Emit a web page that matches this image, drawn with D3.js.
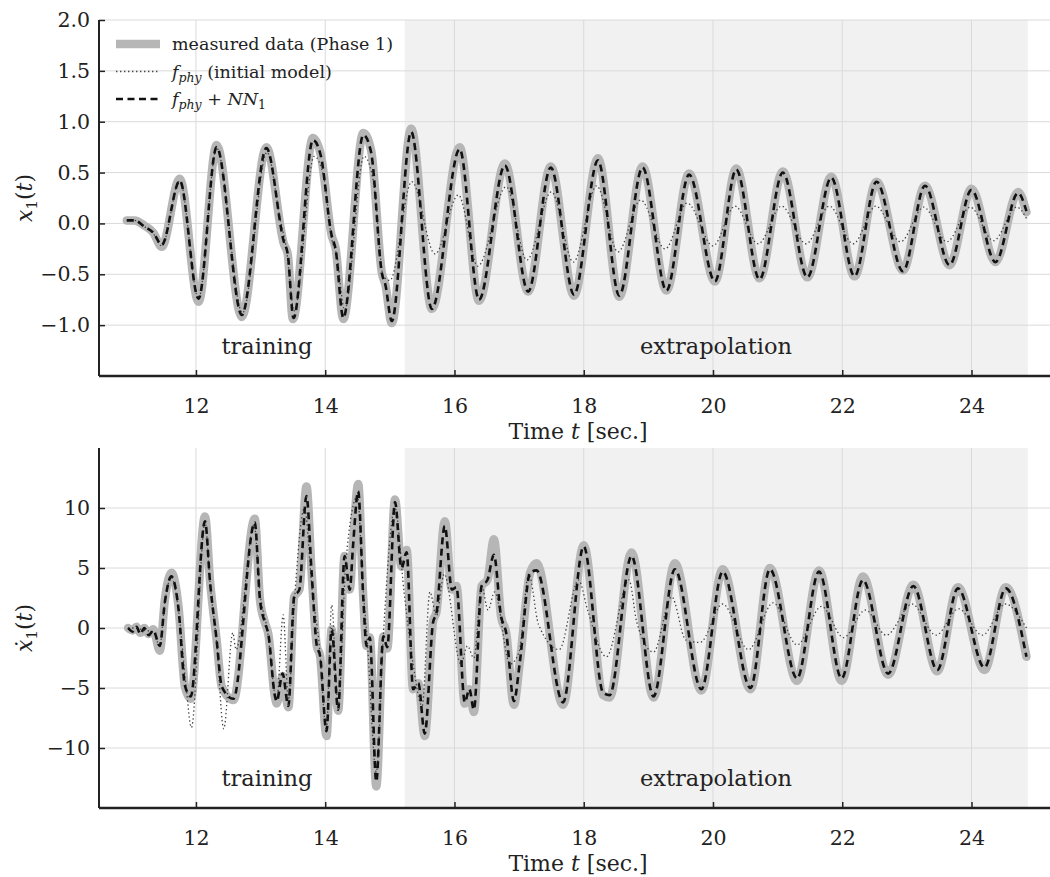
<!DOCTYPE html>
<html>
<head>
<meta charset="utf-8">
<script src="https://cdn.jsdelivr.net/npm/d3@7"></script>
<style>
  body { margin: 0; background: #fff; }
  svg { display: block; font-family: "DejaVu Serif", serif; }
  .grid line { stroke: #dadada; stroke-width: 1; }
  .axis path, .axis line { stroke: #222; }
  .axis text { fill: #222; }
</style>
</head>
<body>
<svg id="chart" width="1050" height="877"></svg>
<script>
// time ranges (sec.)
const extrapStart = 15.23
const extrapEnd = 24.87
const xTicks = [12, 14, 16, 18, 20, 22, 24]
const yTicksTop = [-1.0, -0.5, 0.0, 0.5, 1.0, 1.5, 2.0]
const yTicksBottom = [-10, -5, 0, 5, 10]

// x1(t) — measured, f_phy, f_phy + NN1   [t, value]
const x1Measured = [
  [10.93, 0.03], [11.05, 0.03], [11.20, -0.02], [11.34, -0.09], [11.47, -0.23],
  [11.75, 0.44], [12.04, -0.77], [12.32, 0.77], [12.71, -0.92], [13.09, 0.75],
  [13.36, -0.20], [13.42, -0.30], [13.50, -0.94], [13.81, 0.84], [13.93, 0.68],
  [14.10, -0.12], [14.16, -0.24], [14.28, -0.94], [14.59, 0.89], [14.71, 0.72],
  [14.88, -0.50], [14.93, -0.60], [15.03, -0.98], [15.33, 0.93], [15.65, -0.84],
  [16.08, 0.75], [16.38, -0.76], [16.78, 0.59], [17.14, -0.67], [17.49, 0.56],
  [17.85, -0.71], [18.22, 0.64], [18.55, -0.72], [18.91, 0.56], [19.28, -0.66],
  [19.63, 0.49], [20.03, -0.57], [20.36, 0.54], [20.72, -0.54], [21.08, 0.51],
  [21.46, -0.53], [21.83, 0.46], [22.19, -0.52], [22.53, 0.41], [22.94, -0.46],
  [23.28, 0.37], [23.66, -0.41], [24.00, 0.34], [24.37, -0.38], [24.72, 0.31],
  [24.85, 0.11]
]
const x1Phy = [
  [10.93, 0.03], [11.05, 0.03], [11.20, -0.03], [11.34, -0.10], [11.47, -0.22],
  [11.75, 0.42], [12.04, -0.74], [12.32, 0.74], [12.72, -0.88], [13.10, 0.70],
  [13.30, 0.05], [13.40, -0.25], [13.52, -0.86], [13.83, 0.66], [13.98, 0.45],
  [14.10, -0.15], [14.18, -0.32], [14.30, -0.85], [14.60, 0.66], [14.75, 0.40],
  [14.90, -0.52], [15.00, -0.56], [15.34, 0.41], [15.70, -0.30], [16.06, 0.28],
  [16.36, -0.42], [16.80, 0.36], [17.12, -0.36], [17.50, 0.31], [17.84, -0.38],
  [18.20, 0.37], [18.53, -0.28], [18.88, 0.23], [19.26, -0.25], [19.60, 0.20],
  [20.00, -0.22], [20.34, 0.17], [20.70, -0.20], [21.06, 0.17], [21.44, -0.20],
  [21.80, 0.17], [22.17, -0.20], [22.52, 0.17], [22.90, -0.18], [23.26, 0.16],
  [23.62, -0.18], [23.98, 0.16], [24.34, -0.17], [24.70, 0.16], [24.85, 0.05]
]
const x1PhyNN = [
  [10.93, 0.03], [11.05, 0.03], [11.20, -0.03], [11.34, -0.09], [11.47, -0.21],
  [11.75, 0.42], [12.04, -0.74], [12.32, 0.75], [12.71, -0.90], [13.09, 0.74],
  [13.36, -0.18], [13.42, -0.30], [13.51, -0.93], [13.81, 0.82], [13.93, 0.67],
  [14.10, -0.12], [14.16, -0.25], [14.28, -0.93], [14.59, 0.87], [14.71, 0.70],
  [14.88, -0.50], [14.93, -0.60], [15.03, -0.96], [15.33, 0.90], [15.65, -0.84],
  [16.08, 0.73], [16.38, -0.75], [16.78, 0.57], [17.14, -0.67], [17.49, 0.55],
  [17.85, -0.70], [18.22, 0.62], [18.55, -0.71], [18.91, 0.55], [19.28, -0.66],
  [19.63, 0.48], [20.03, -0.57], [20.36, 0.53], [20.72, -0.55], [21.08, 0.50],
  [21.46, -0.53], [21.83, 0.45], [22.19, -0.52], [22.53, 0.41], [22.94, -0.47],
  [23.28, 0.37], [23.66, -0.41], [24.00, 0.33], [24.37, -0.38], [24.72, 0.30],
  [24.85, 0.12]
]

// x1 dot (t)
const dx1Measured = [
  [10.95, 0.0], [11.02, -0.2], [11.08, 0.1], [11.14, -0.4], [11.20, 0.0],
  [11.27, -0.5], [11.34, -0.1], [11.44, -1.9], [11.52, 2.4], [11.62, 4.6],
  [11.73, 1.8], [11.83, -4.9], [11.92, -5.9], [12.14, 9.3], [12.22, 3.8],
  [12.32, -1.0], [12.40, -4.9], [12.58, -6.0], [12.91, 9.1], [12.99, 2.4],
  [13.07, 0.4], [13.12, -0.5], [13.22, -5.7], [13.25, -6.3], [13.34, -4.0],
  [13.43, -6.6], [13.52, 2.6], [13.60, 3.2], [13.71, 11.8], [13.79, 4.6],
  [13.87, -1.5], [13.92, -2.3], [14.02, -9.0], [14.10, -0.1], [14.20, -6.9],
  [14.30, 6.0], [14.38, 3.2], [14.43, 7.0], [14.51, 12.0], [14.59, 2.4],
  [14.64, -1.5], [14.69, -0.8], [14.79, -13.2], [14.90, -0.7], [14.96, -1.7],
  [15.08, 10.7], [15.18, 5.1], [15.26, 6.5], [15.36, -5.1], [15.44, -4.6],
  [15.54, -9.0], [15.67, 0.6], [15.72, 1.3], [15.85, 8.9], [15.96, 3.2],
  [16.03, 3.5], [16.16, -6.3], [16.23, -5.1], [16.30, -7.0], [16.42, 3.5],
  [16.51, 4.0], [16.61, 7.4], [16.72, 1.0], [16.80, -0.4], [16.92, -6.4],
  [17.01, -2.9], [17.17, 4.6], [17.27, 5.4], [17.68, -6.4], [18.00, 6.9],
  [18.30, -5.6], [18.40, -5.8], [18.74, 6.3], [19.08, -5.8], [19.41, 5.4],
  [19.82, -5.2], [20.15, 4.9], [20.58, -5.1], [20.88, 5.0], [21.30, -4.4],
  [21.64, 4.8], [21.99, -4.4], [22.32, 4.3], [22.71, -3.9], [23.10, 3.6],
  [23.47, -3.6], [23.79, 3.4], [24.20, -3.5], [24.53, 3.4], [24.85, -2.4]
]
const dx1Phy = [
  [10.95, 0.0], [11.08, 0.0], [11.20, -0.2], [11.34, -0.3], [11.44, -1.5],
  [11.52, 2.2], [11.62, 4.2], [11.73, 1.5], [11.85, -5.0], [11.93, -8.3],
  [12.14, 8.8], [12.22, 3.6], [12.32, -1.2], [12.43, -8.4], [12.57, -0.4],
  [12.62, -1.8], [12.90, 8.6], [12.99, 3.0], [13.10, 0.0], [13.25, -6.0],
  [13.35, 1.1], [13.43, -6.0], [13.52, 2.0], [13.68, 10.0], [13.80, 3.0],
  [13.90, -1.0], [14.02, -8.5], [14.10, 1.9], [14.20, -6.5], [14.32, 5.5],
  [14.50, 11.0], [14.58, 3.8], [14.65, -1.0], [14.79, -12.0], [14.90, -0.5],
  [15.08, 10.0], [15.22, 3.0], [15.36, -3.0], [15.50, -6.5], [15.62, 3.0],
  [15.72, 1.0], [15.84, 4.5], [16.10, -3.0], [16.20, -1.5], [16.30, -2.5],
  [16.42, 3.5], [16.52, 1.5], [16.62, 3.0], [16.86, -3.0], [17.00, -2.0],
  [17.15, 4.5], [17.30, 0.3], [17.62, -1.8], [17.92, 4.0], [18.06, 1.5],
  [18.35, -2.4], [18.70, 4.0], [18.82, 0.5], [19.08, -2.0], [19.36, 2.6],
  [19.58, -1.0], [19.80, -1.2], [20.15, 2.0], [20.55, -1.8], [20.93, 2.1],
  [21.30, -1.4], [21.68, 1.8], [22.02, -0.8], [22.36, 1.5], [22.68, -0.6],
  [23.08, 2.0], [23.45, -0.6], [23.80, 1.6], [24.17, -0.6], [24.52, 2.0],
  [24.85, 0.0]
]
const dx1PhyNN = [
  [10.95, 0.0], [11.02, -0.3], [11.08, 0.1], [11.14, -0.5], [11.20, 0.0],
  [11.27, -0.6], [11.34, -0.2], [11.44, -1.5], [11.52, 2.2], [11.62, 4.3],
  [11.73, 1.6], [11.83, -4.8], [11.92, -5.7], [12.14, 8.9], [12.22, 3.7],
  [12.32, -1.0], [12.40, -4.9], [12.58, -5.9], [12.91, 8.8], [12.99, 2.4],
  [13.07, 0.4], [13.12, -0.5], [13.22, -5.6], [13.25, -6.1], [13.34, -3.8],
  [13.43, -6.5], [13.52, 2.6], [13.60, 3.2], [13.71, 11.0], [13.79, 4.6],
  [13.87, -1.5], [13.92, -2.3], [14.02, -8.6], [14.10, -0.1], [14.20, -6.8],
  [14.30, 6.0], [14.38, 3.2], [14.43, 6.8], [14.51, 11.4], [14.59, 2.4],
  [14.64, -1.5], [14.69, -0.8], [14.79, -12.8], [14.90, -0.7], [14.96, -1.6],
  [15.08, 10.5], [15.18, 5.0], [15.26, 6.3], [15.36, -5.1], [15.44, -4.6],
  [15.54, -8.8], [15.67, 0.5], [15.72, 1.2], [15.85, 8.5], [15.96, 3.2],
  [16.03, 3.4], [16.16, -6.2], [16.23, -5.1], [16.30, -6.8], [16.42, 3.5],
  [16.51, 4.0], [16.61, 6.1], [16.72, 1.0], [16.80, -0.4], [16.92, -6.1],
  [17.01, -2.9], [17.17, 4.6], [17.27, 4.8], [17.68, -6.2], [18.00, 6.8],
  [18.30, -5.4], [18.40, -5.6], [18.74, 6.0], [19.08, -5.7], [19.41, 4.9],
  [19.82, -5.1], [20.15, 4.7], [20.58, -5.0], [20.88, 4.9], [21.30, -4.2],
  [21.64, 4.7], [21.99, -4.2], [22.32, 4.0], [22.71, -3.8], [23.10, 3.5],
  [23.47, -3.5], [23.79, 3.3], [24.20, -3.3], [24.53, 3.3], [24.85, -2.4]
]

const svg = d3.select("#chart")

const xScale = d3.scaleLinear().domain([10.5, 25.4]).range([99, 1062])

const panels = [
  {
    top: 20, bottom: 376, domain: [-1.5, 2.0], ticks: yTicksTop,
    fmt: d3.format(".1f"),
    series: [x1Measured, x1Phy, x1PhyNN],
    dot: false, legend: true
  },
  {
    top: 448, bottom: 808, domain: [-15, 15], ticks: yTicksBottom,
    fmt: d3.format("d"),
    series: [dx1Measured, dx1Phy, dx1PhyNN],
    dot: true, legend: false
  }
]

const left = 99, right = 1050
const measuredStyle = { stroke: "#b6b6b6", width: 8.5, dash: null }
const phyStyle = { stroke: "#444", width: 1.3, dash: "1.4,2.6" }
const nnStyle = { stroke: "#111", width: 2.6, dash: "7,4.5" }

panels.forEach(p => {
  const yScale = d3.scaleLinear().domain(p.domain).range([p.bottom, p.top])
  const g = svg.append("g")

  // shaded extrapolation band
  g.append("rect")
    .attr("x", xScale(extrapStart))
    .attr("y", p.top)
    .attr("width", xScale(extrapEnd) - xScale(extrapStart))
    .attr("height", p.bottom - p.top)
    .attr("fill", "#f1f1f1")

  // grid
  const grid = g.append("g").attr("class", "grid")
  grid.selectAll(".gx").data(xTicks).join("line")
    .attr("x1", d => xScale(d)).attr("x2", d => xScale(d))
    .attr("y1", p.top).attr("y2", p.bottom)
  grid.selectAll(".gy").data(p.ticks).join("line")
    .attr("x1", left).attr("x2", right)
    .attr("y1", d => yScale(d)).attr("y2", d => yScale(d))

  // region labels
  const ly = yScale(p.domain[0]) - 22
  g.append("text").attr("x", 267).attr("y", ly).attr("text-anchor", "middle")
    .attr("font-size", 22.5).attr("fill", "#222").text("training")
  g.append("text").attr("x", 716).attr("y", ly).attr("text-anchor", "middle")
    .attr("font-size", 22.5).attr("fill", "#222").text("extrapolation")

  const line = d3.line()
    .x(d => xScale(d[0]))
    .y(d => yScale(d[1]))
    .curve(d3.curveMonotoneX)

  const draw = (data, s, extra) => g.append("path").datum(data)
    .attr("d", line).attr("fill", "none")
    .attr("stroke", s.stroke).attr("stroke-width", s.width)
    .attr("stroke-dasharray", s.dash)
    .attr("stroke-linejoin", "round")
    .attr("stroke-linecap", extra ? "round" : "butt")

  draw(p.series[0], measuredStyle, true)
  draw(p.series[1], phyStyle, false)
  draw(p.series[2], nnStyle, false)

  // axes, ticks pointing inward
  const yAxis = g.append("g").attr("class", "axis")
    .attr("transform", `translate(${left},0)`)
    .call(d3.axisLeft(yScale).tickValues(p.ticks).tickFormat(p.fmt)
      .tickSize(-6).tickPadding(9))
  yAxis.select(".domain").attr("d", `M0,${p.top}V${p.bottom}`).attr("stroke-width", 2)
  yAxis.selectAll(".tick line").attr("stroke-width", 1.5)
  yAxis.selectAll("text").attr("font-size", 20.5).attr("font-family", "DejaVu Serif")

  const xAxis = g.append("g").attr("class", "axis")
    .attr("transform", `translate(0,${p.bottom})`)
    .call(d3.axisBottom(xScale).tickValues(xTicks).tickFormat(d3.format("d"))
      .tickSize(-6).tickPadding(22))
  xAxis.select(".domain").attr("d", `M${left},0H${right + 5}`).attr("stroke-width", 2.5)
  xAxis.selectAll(".tick line").attr("stroke-width", 1.5)
  xAxis.selectAll("text").attr("font-size", 20.5).attr("font-family", "DejaVu Serif")

  // x label
  const xl = g.append("text").attr("x", 578).attr("y", p.bottom + 63)
    .attr("text-anchor", "middle").attr("font-size", 22).attr("fill", "#222")
  xl.append("tspan").text("Time ")
  xl.append("tspan").attr("font-style", "italic").text("t")
  xl.append("tspan").text(" [sec.]")

  // y label
  const cy = (p.top + p.bottom) / 2
  const yl = g.append("text")
    .attr("transform", `translate(32,${cy}) rotate(-90)`)
    .attr("text-anchor", "middle").attr("font-size", 22).attr("fill", "#222")
  yl.append("tspan").attr("font-style", "italic").text(p.dot ? "\u1E8B" : "x")
  yl.append("tspan").attr("font-size", 15).attr("dy", 5).text("1")
  yl.append("tspan").attr("dy", -5).text("(")
  yl.append("tspan").attr("font-style", "italic").text("t")
  yl.append("tspan").text(")")

  if (p.legend) {
    const items = [measuredStyle, phyStyle, { ...nnStyle, width: 2.3 }]
    const lg = g.append("g")
    items.forEach((it, i) => {
      const y = 44 + i * 27.5
      lg.append("line").attr("x1", 116).attr("x2", 160).attr("y1", y).attr("y2", y)
        .attr("stroke", it.stroke).attr("stroke-width", it.width)
        .attr("stroke-dasharray", it.dash)
    })
    const txt = (i) => lg.append("text").attr("x", 172).attr("y", 44 + i * 27.5 + 6)
      .attr("font-size", 17.5).attr("fill", "#222")
    txt(0).text("measured data (Phase 1)")
    const t1 = txt(1)
    t1.append("tspan").attr("font-style", "italic").text("f")
    t1.append("tspan").attr("font-style", "italic").attr("font-size", 12.5).attr("dy", 4).text("phy")
    t1.append("tspan").attr("dy", -4).text(" (initial model)")
    const t2 = txt(2)
    t2.append("tspan").attr("font-style", "italic").text("f")
    t2.append("tspan").attr("font-style", "italic").attr("font-size", 12.5).attr("dy", 4).text("phy")
    t2.append("tspan").attr("dy", -4).text(" + ")
    t2.append("tspan").attr("font-style", "italic").text("NN")
    t2.append("tspan").attr("font-size", 12.5).attr("dy", 4).text("1")
  }
})
</script>
</body>
</html>
